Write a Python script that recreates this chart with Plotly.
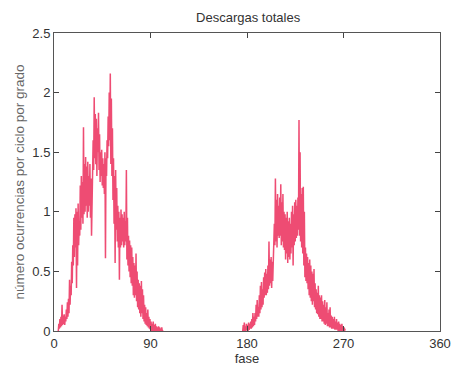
import plotly.graph_objects as go

# Lobe 1 (fase in degrees) : upper and lower envelope of the dense trace
fase1 = list(range(4, 102))
hi1 = [0.06, 0.10, 0.12, 0.22, 0.13, 0.14, 0.12, 0.18, 0.24, 0.27,
       0.43, 0.38, 0.58, 0.72, 0.95, 0.98, 1.03, 1.00, 1.07, 0.92,
       1.22, 1.30, 1.25, 1.71, 1.40, 1.46, 1.38, 1.42, 1.30, 1.40,
       1.28, 1.25, 1.60, 1.96, 1.82, 1.78, 1.70, 1.83, 1.65, 1.50,
       1.52, 1.45, 1.40, 1.50, 1.45, 1.60, 1.80, 2.00, 2.16, 1.95,
       1.70, 1.45, 1.30, 1.35, 1.20, 1.05, 1.00, 0.95, 1.02, 0.98,
       0.95, 1.00, 0.92, 1.35, 0.95, 0.80, 0.76, 0.72, 0.70, 0.62,
       0.57, 0.55, 0.65, 0.50, 0.43, 0.40, 0.38, 0.42, 0.35, 0.30,
       0.22, 0.20, 0.15, 0.18, 0.12, 0.10, 0.08, 0.06, 0.08, 0.05,
       0.06, 0.04, 0.03, 0.04, 0.03, 0.02, 0.03, 0.01]
lo1 = [0.00, 0.02, 0.03, 0.04, 0.05, 0.06, 0.05, 0.08, 0.10, 0.12,
       0.15, 0.22, 0.30, 0.40, 0.55, 0.62, 0.70, 0.36, 0.55, 0.72,
       0.80, 0.85, 0.95, 0.90, 0.98, 1.00, 1.05, 0.95, 1.00, 1.05,
       0.95, 0.80, 1.20, 1.35, 1.45, 1.40, 1.30, 1.50, 1.35, 1.25,
       1.30, 1.22, 1.20, 1.15, 0.61, 1.30, 1.45, 1.55, 1.60, 1.40,
       1.30, 1.10, 0.90, 0.57, 0.85, 0.75, 0.70, 0.43, 0.70, 0.72,
       0.75, 0.70, 0.72, 0.75, 0.60, 0.55, 0.50, 0.45, 0.40, 0.38,
       0.30, 0.28, 0.30, 0.25, 0.20, 0.18, 0.15, 0.12, 0.15, 0.10,
       0.08, 0.06, 0.05, 0.04, 0.03, 0.02, 0.01, 0.00, 0.00, 0.00,
       0.00, 0.00, 0.00, 0.00, 0.00, 0.00, 0.00, 0.00]

# Lobe 2
fase2 = list(range(176, 272))
hi2 = [0.05, 0.07, 0.04, 0.06, 0.05, 0.07, 0.06, 0.08, 0.10, 0.15,
       0.12, 0.15, 0.22, 0.26, 0.20, 0.30, 0.38, 0.41, 0.35, 0.45,
       0.49, 0.52, 0.48, 0.55, 0.75, 0.60, 0.62, 0.58, 0.65, 0.90,
       1.28, 1.10, 1.15, 1.05, 1.12, 1.23, 1.08, 1.15, 1.00, 0.98,
       0.95, 1.00, 0.92, 0.95, 0.90, 1.00, 1.05, 0.98, 1.08, 1.10,
       1.05, 1.12, 1.77, 1.50, 1.15, 1.20, 1.21, 1.00, 0.70, 0.65,
       0.62, 0.57, 0.60, 0.55, 0.50, 0.48, 0.52, 0.40, 0.35, 0.32,
       0.38, 0.30, 0.28, 0.30, 0.25, 0.22, 0.26, 0.20, 0.24, 0.15,
       0.18, 0.20, 0.13, 0.12, 0.10, 0.12, 0.08, 0.10, 0.07, 0.08,
       0.06, 0.05, 0.06, 0.04, 0.03, 0.02]
lo2 = [0.00, 0.00, 0.00, 0.00, 0.01, 0.00, 0.01, 0.02, 0.02, 0.03,
       0.04, 0.05, 0.08, 0.10, 0.12, 0.12, 0.15, 0.18, 0.20, 0.22,
       0.28, 0.30, 0.30, 0.32, 0.35, 0.38, 0.40, 0.36, 0.42, 0.60,
       0.72, 0.75, 0.70, 0.80, 0.78, 0.80, 0.72, 0.75, 0.70, 0.68,
       0.60, 0.65, 0.57, 0.62, 0.60, 0.65, 0.70, 0.55, 0.72, 0.75,
       0.78, 0.80, 0.85, 0.80, 0.75, 0.70, 0.65, 0.55, 0.45, 0.42,
       0.40, 0.35, 0.30, 0.28, 0.25, 0.22, 0.25, 0.20, 0.18, 0.15,
       0.14, 0.12, 0.10, 0.10, 0.08, 0.08, 0.06, 0.05, 0.06, 0.04,
       0.04, 0.03, 0.03, 0.02, 0.02, 0.02, 0.01, 0.01, 0.01, 0.00,
       0.00, 0.00, 0.00, 0.00, 0.00, 0.00]

x_ticks = [0, 90, 180, 270, 360]
y_ticks = [0, 0.5, 1, 1.5, 2, 2.5]


def zigzag(fase, lo, hi):
    xs, ys = [], []
    for f, a, b in zip(fase, lo, hi):
        xs += [f, f + 0.5]
        ys += [a, b]
    return xs, ys


fig = go.Figure()
for fase, lo, hi in [(fase1, lo1, hi1), (fase2, lo2, hi2)]:
    xs, ys = zigzag(fase, lo, hi)
    fig.add_trace(go.Scatter(x=xs, y=ys, mode="lines",
                             line=dict(color="rgba(235,45,90,0.85)", width=1.5),
                             showlegend=False, hoverinfo="skip"))

fig.update_layout(
    width=452, height=367,
    margin=dict(l=54, r=12, t=33, b=36),
    paper_bgcolor="white", plot_bgcolor="white",
    font=dict(family="Liberation Sans, Arial, sans-serif", size=13, color="#333"),
    title=dict(text="Descargas totales", x=0.549, xanchor="center",
               y=0.953, yanchor="middle", font=dict(size=13, color="#333")),
)
fig.update_xaxes(range=[0, 360], tickvals=x_ticks, ticktext=[str(v) for v in x_ticks],
                 showgrid=False, zeroline=False, ticks="inside", ticklen=5,
                 tickcolor="#444", showline=True, linecolor="#555", linewidth=1,
                 mirror="ticks", automargin=False, ticklabeloverflow="allow",
                 tickfont=dict(size=13),
                 title=dict(text="fase", standoff=0, font=dict(size=13, color="#333")))
fig.update_yaxes(range=[0, 2.5], tickvals=y_ticks, ticktext=["0", "0.5", "1", "1.5", "2", "2.5"],
                 showgrid=False, zeroline=False, ticks="inside", ticklen=5,
                 tickcolor="#444", showline=True, linecolor="#555", linewidth=1,
                 mirror="ticks", automargin=False, ticklabeloverflow="allow",
                 tickfont=dict(size=13),
                 title=dict(text="número ocurrencias por ciclo por grado", standoff=4,
                            font=dict(size=13.5, color="#666")))

fig.write_html("out.html", config={"displayModeBar": False},
               post_script="document.body.style.margin='0';document.body.style.overflow='hidden';")
